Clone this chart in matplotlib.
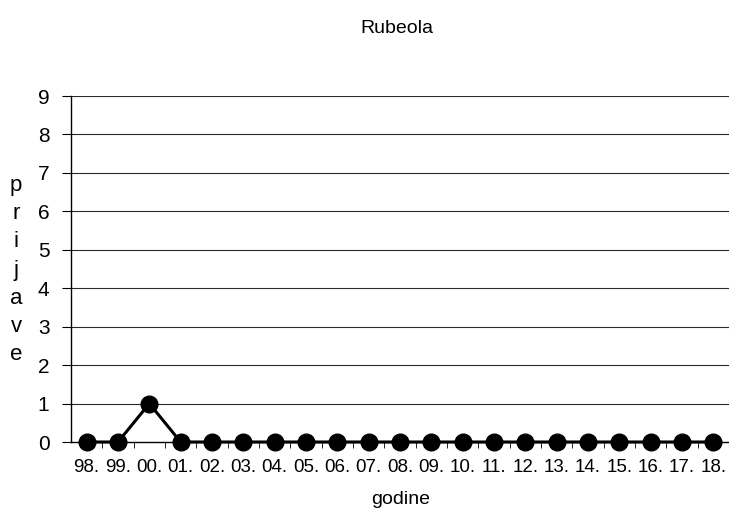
import matplotlib
matplotlib.use("Agg")
import matplotlib.pyplot as plt
from matplotlib.ticker import FixedLocator

plt.rcParams['font.family'] = ['Liberation Sans', 'DejaVu Sans']

years = ["98.", "99.", "00.", "01.", "02.", "03.", "04.", "05.", "06.", "07.",
         "08.", "09.", "10.", "11.", "12.", "13.", "14.", "15.", "16.", "17.", "18."]
cases = [0, 0, 1, 0, 0, 0, 0, 0, 0, 0, 0, 0, 0, 0, 0, 0, 0, 0, 0, 0, 0]
yticks = list(range(0, 10))
ylabel_letters = ["p", "r", "i", "j", "a", "v", "e"]

W, H = 729, 512
fig = plt.figure(figsize=(W / 100, H / 100), dpi=100)
ax = fig.add_axes([71 / W, 70 / H, (W - 71) / W, (442 - 96) / H])

x = list(range(len(years)))
ax.plot(x, cases, color='black', linewidth=2.2, marker='o', markersize=12,
        markerfacecolor='black', markeredgecolor='black', zorder=3, clip_on=False)

ax.set_xlim(-0.5, len(years) - 0.5)
ax.set_ylim(0, 9)
ax.set_yticks(yticks)
ax.set_yticklabels([str(v) for v in yticks], fontsize=15)
ax.set_xticks(x)
ax.set_xticklabels(years, fontsize=13.5)
ax.xaxis.set_minor_locator(FixedLocator([i + 0.5 for i in range(len(years) - 1)]))
ax.tick_params(axis='x', which='major', length=0, pad=12)
ax.tick_params(axis='x', which='minor', length=4, direction='out', color='black')
ax.tick_params(axis='y', length=6.5, direction='out', pad=9, color='black')

for v in yticks[1:]:
    ax.axhline(v, color='#2a2a2a', linewidth=0.8, zorder=1)

for s in ['top', 'right']:
    ax.spines[s].set_visible(False)
ax.spines['left'].set_linewidth(1.0)
ax.spines['bottom'].set_linewidth(1.0)

fig.text(397 / W, 1 - 33 / H, "Rubeola", ha='center', va='baseline', fontsize=14)
fig.text(401 / W, 1 - 504 / H, "godine", ha='center', va='baseline', fontsize=14)
for i, ch in enumerate(ylabel_letters):
    fig.text(16 / W, 1 - (191 + i * 28.2) / H, ch, ha='center', va='baseline', fontsize=16)

fig.savefig("out.png", dpi=100)
